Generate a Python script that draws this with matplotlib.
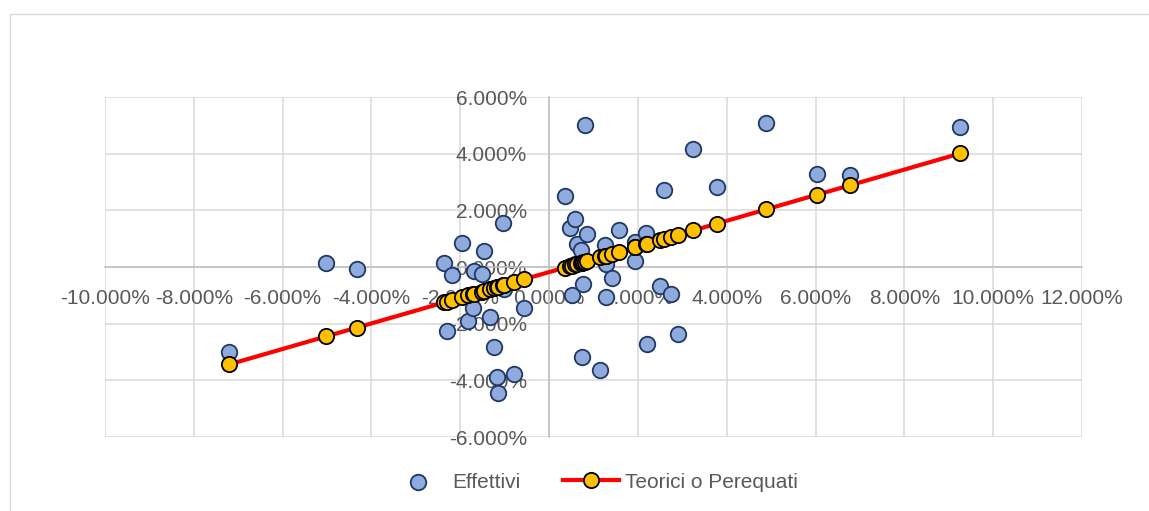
import matplotlib
matplotlib.use("Agg")
import matplotlib.pyplot as plt
from matplotlib.patches import Rectangle
from matplotlib.ticker import FuncFormatter, MultipleLocator

plt.rcParams['font.family'] = ['Liberation Sans', 'DejaVu Sans']

# rendimenti di mercato (asse x) e del titolo, valori in %
x_mercato = [-7.21, -5.02, -4.33, -2.36, -2.29, -2.18, -1.96, -1.82, -1.71, -1.70,
             -1.52, -1.46, -1.32, -1.25, -1.18, -1.14, -1.04, -1.02, -0.79, -0.56,
             0.36, 0.47, 0.51, 0.59, 0.62, 0.72, 0.74, 0.77, 0.81, 0.85,
             1.15, 1.26, 1.28, 1.28, 1.41, 1.58, 1.93, 1.94, 2.18, 2.20,
             2.50, 2.59, 2.75, 2.91, 3.25, 3.78, 4.88, 6.03, 6.77, 9.26]
y_effettivi = [-3.00, 0.15, -0.08, 0.15, -2.27, -0.27, 0.83, -1.92, -1.43, -0.15,
               -0.26, 0.55, -1.78, -2.84, -3.88, -4.44, 1.55, -0.78, -3.78, -1.46,
               2.51, 1.39, -1.00, 1.71, 0.81, 0.60, -3.17, -0.59, 5.00, 1.15,
               -3.62, 0.77, 0.12, -1.06, -0.38, 1.29, 0.88, 0.21, 1.21, -2.73,
               -0.66, 2.72, -0.95, -2.35, 4.18, 2.81, 5.10, 3.29, 3.23, 4.94]
y_teorici = [-3.44, -2.45, -2.14, -1.25, -1.22, -1.17, -1.07, -1.00, -0.95, -0.95,
             -0.87, -0.84, -0.78, -0.74, -0.71, -0.70, -0.65, -0.64, -0.54, -0.43,
             -0.02, 0.03, 0.05, 0.09, 0.10, 0.15, 0.15, 0.17, 0.19, 0.20,
             0.34, 0.39, 0.40, 0.40, 0.46, 0.53, 0.69, 0.70, 0.81, 0.81,
             0.95, 0.99, 1.06, 1.14, 1.29, 1.53, 2.03, 2.55, 2.88, 4.01]

fig = plt.figure(figsize=(11.49, 5.11), dpi=100)
ax = fig.add_axes([105 / 1149, 1 - 437 / 511, 977 / 1149, 340 / 511])

# bordo esterno dell'area grafico
fig.patches.append(Rectangle((10 / 1149, -0.1), 1.1, 1.1 - 14 / 511,
                             transform=fig.transFigure, fill=False,
                             edgecolor='#d9d9d9', linewidth=1))

ax.scatter(x_mercato, y_effettivi, s=125, c='#8faadc', edgecolors='#1f3864',
           linewidths=1.3, zorder=3, label='Effettivi')
ax.plot(x_mercato, y_teorici, color='#ff0000', linewidth=3, marker='o',
        markersize=11, markerfacecolor='#ffc000', markeredgecolor='black',
        markeredgewidth=1.3, zorder=4, label='Teorici o Perequati')

ax.set_xlim(-10, 12)
ax.set_ylim(-6, 6)
ax.xaxis.set_major_locator(MultipleLocator(2))
ax.yaxis.set_major_locator(MultipleLocator(2))
fmt = FuncFormatter(lambda v, p: '%.3f%%' % v)
ax.xaxis.set_major_formatter(fmt)
ax.yaxis.set_major_formatter(fmt)

ax.set_axisbelow(True)
ax.grid(True, color='#d9d9d9', linewidth=1.1)
ax.spines['left'].set_position(('data', 0))
ax.spines['bottom'].set_position(('data', 0))
ax.spines['right'].set_visible(False)
ax.spines['top'].set_visible(False)
for s in ['left', 'bottom']:
    ax.spines[s].set_color('#bfbfbf')
    ax.spines[s].set_linewidth(1.1)
ax.tick_params(axis='x', length=0, pad=16, labelsize=15, labelcolor='#595959')
ax.tick_params(axis='y', length=0, pad=16, labelsize=15, labelcolor='#595959')

fig.legend(loc='center', bbox_to_anchor=(594 / 1149, 1 - 482 / 511), ncol=2,
           frameon=False, fontsize=15, labelcolor='#595959', handlelength=2.7,
           handletextpad=0.3, columnspacing=2.0)

fig.savefig('out.png', dpi=100)
